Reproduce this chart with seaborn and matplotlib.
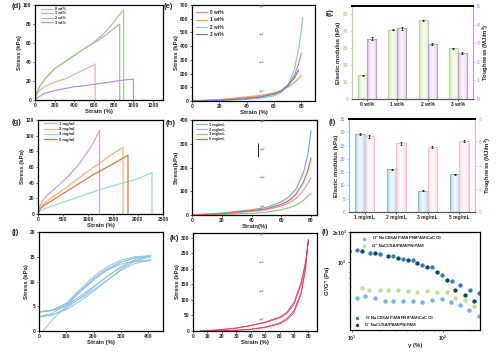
import matplotlib
matplotlib.use("Agg")
import matplotlib.pyplot as plt
from matplotlib.ticker import NullFormatter
from matplotlib.colors import to_rgb
import seaborn as sns
import numpy as np
import pandas as pd

sns.set_style("ticks")
plt.rcParams['font.family'] = ['Liberation Sans', 'DejaVu Sans']
plt.rcParams['mathtext.default'] = 'regular'
plt.rcParams['font.weight'] = 'bold'

# ---------------- data ----------------
# (d) tensile, CaCO3 content
d_labels = ["0 wt%", "1 wt%", "2 wt%", "3 wt%"]
d_colors = ["#f6ada6", "#b9b0bb", "#9fcf8c", "#b894d8"]
d0_x = [0, 20, 50, 100, 200, 300, 400, 500, 600, 610, 610]
d0_y = [0, 6, 10, 14, 19, 22, 27, 32, 37, 38, 0]
d1_x = [0, 20, 50, 100, 200, 300, 400, 500, 600, 700, 800, 860, 860]
d1_y = [0, 8, 15, 22, 33, 40, 47, 54, 60, 67, 75, 80, 0]
d2_x = [0, 20, 50, 100, 200, 300, 400, 500, 600, 700, 800, 900, 900]
d2_y = [0, 8, 15, 22, 33, 40, 47, 54, 61, 70, 82, 95, 0]
d3_x = [0, 20, 50, 100, 200, 300, 400, 500, 600, 700, 800, 900, 1000, 1000]
d3_y = [0, 2, 4, 7, 10, 12, 14, 15, 16.5, 18, 19.5, 21, 22, 0]

# (e) compression, CaCO3 content
e_colors = ["#ea8497", "#f5a252", "#86d6b6", "#7474d8"]
e0_x = [0, 20, 40, 50, 60, 65, 70, 75, 78, 80]
e0_y = [0, 8, 25, 35, 55, 75, 115, 190, 270, 350]
e1_x = [0, 20, 40, 50, 60, 65, 70, 75, 78, 80]
e1_y = [0, 10, 30, 40, 60, 75, 100, 135, 165, 185]
e2_x = [0, 20, 40, 50, 60, 65, 70, 75, 78, 80, 81]
e2_y = [0, 3, 12, 20, 38, 60, 110, 230, 380, 520, 610]
e3_x = [0, 20, 40, 50, 60, 65, 70, 75, 78]
e3_y = [0, 5, 18, 28, 50, 70, 110, 170, 225]
e_marks_y = [685, 481, 277, 66]

# (f) bars
f_cats = ["0 wt%", "1 wt%", "2 wt%", "3 wt%"]
f_mod = [14, 41, 46.5, 30]
f_mod_err = [0.3, 0.4, 0.4, 0.4]
f_tough = [3.25, 3.8, 2.95, 2.45]
f_tough_err = [0.07, 0.07, 0.07, 0.05]

# (g) tensile, SA content
g_labels = ["1 mg/ml", "2 mg/ml", "3 mg/ml", "5 mg/ml"]
g_colors = ["#c9a3e2", "#f5b376", "#95e2c4", "#e2763f"]
g1_x = [0, 20, 50, 100, 200, 400, 600, 800, 1000, 1100, 1200, 1230, 1230]
g1_y = [0, 7, 12, 18, 25, 36, 48, 62, 80, 90, 103, 107, 0]
g2_x = [0, 20, 50, 100, 300, 500, 700, 900, 1100, 1300, 1500, 1700, 1700]
g2_y = [0, 5, 8, 12, 22, 31, 40, 50, 59, 68, 77, 85, 0]
g3_x = [0, 20, 50, 100, 500, 1000, 1500, 2000, 2280, 2280]
g3_y = [0, 2.5, 4, 6, 15, 26, 36, 45, 53, 0]
g5_x = [0, 20, 50, 100, 300, 500, 700, 900, 1100, 1300, 1500, 1800, 1800]
g5_y = [0, 4, 7, 10, 18, 26, 34, 42, 50, 57, 64, 75, 0]

# (h) compression, SA content
h_labels = ["1 mg/mL", "2 mg/mL", "3 mg/mL", "5 mg/mL"]
h_colors = ["#6fb2e4", "#c9a3e2", "#86cf86", "#f26344"]
h_x = [0, 20, 40, 50, 60, 65, 70, 75, 78, 80]
h1_y = [0, 8, 22, 32, 55, 75, 110, 180, 260, 355]
h2_y = [0, 5, 15, 22, 38, 50, 70, 105, 135, 155]
h3_y = [0, 2, 7, 12, 22, 30, 42, 62, 80, 92]
h5_y = [0, 6, 18, 26, 45, 60, 88, 140, 190, 240]
h_marks_y = [392, 274, 156, 34]
h_cursor_x = 44.4
h_cursor_y = [244, 303]

# (i) bars
i_cats = ["1 mg/mL", "2 mg/mL", "3 mg/mL", "5 mg/mL"]
i_mod = [29.5, 16, 8, 14.2]
i_mod_err = [0.4, 0.2, 0.15, 0.2]
i_tough = [6.5, 5.9, 5.6, 6.1]
i_tough_err = [0.12, 0.12, 0.07, 0.1]

# (j) cyclic tensile
j_curves = [
    ([15, 50, 100, 150, 200, 250, 300, 350, 410], [0, 2.3, 5.0, 7.8, 10.3, 12.4, 13.9, 14.8, 15.2]),
    ([410, 350, 300, 250, 200, 150, 100, 50, 0], [15.2, 15.0, 14.3, 13.0, 11.0, 8.4, 5.6, 4.2, 3.9]),
    ([0, 50, 100, 150, 200, 250, 300, 350, 410], [3.9, 4.2, 5.0, 6.5, 8.3, 10.3, 12.2, 13.6, 14.3]),
    ([410, 350, 300, 250, 200, 150, 100, 50, 0], [14.3, 14.1, 13.5, 12.3, 10.4, 8.0, 5.5, 4.3, 3.8]),
    ([0, 50, 100, 150, 200, 250, 300, 350, 410], [3.8, 4.1, 5.1, 7.0, 9.0, 11.0, 12.8, 14.0, 14.4]),
    ([0, 50, 100, 150, 200, 250, 300, 350, 410], [2.9, 3.3, 4.3, 6.0, 8.0, 10.2, 12.4, 14.1, 15.0]),
    ([410, 350, 300, 250, 200, 150, 100, 50, 0], [15.0, 14.7, 13.9, 12.6, 10.6, 8.0, 5.3, 3.6, 2.9]),
    ([0, 50, 100, 150, 200, 250, 300, 350, 410], [2.8, 3.2, 4.6, 6.6, 8.8, 11.0, 13.0, 14.4, 15.1]),
]

# (k) cyclic compression
k_curves = [
    ([5, 10, 20, 30, 40, 50, 60, 65, 70, 75, 78, 80],
     [0, 1, 4, 9, 17, 27, 42, 56, 85, 150, 215, 295]),
    ([80, 78, 75, 70, 65, 60, 50, 40, 30, 20, 10, 5],
     [295, 205, 125, 65, 40, 26, 13, 6, 2.5, 1, 0, 0]),
    ([5, 10, 20, 30, 40, 50, 60, 65, 70, 75, 78, 80],
     [0, 1.5, 5, 10, 18, 29, 45, 60, 92, 158, 222, 290]),
    ([80, 78, 75, 70, 65, 60, 50, 40, 30, 20, 10, 5],
     [290, 198, 118, 58, 36, 23, 11, 5, 2, 0.5, 0, 0]),
]
k_marks_y = [310, 219, 126, 35]

# (l) strain sweep
l_gp1_x = [9.34, 12.8, 17.9, 25.1, 32.3, 41.6, 52.2, 67.2, 85.3, 110, 136, 175, 219]
l_gp1_y = [1297, 1280, 1230, 1148, 1096, 1040, 984, 891, 794, 656, 528, 471, 410]
l_gp2_x = [11.3, 15.8, 20.3, 28.4, 36.6, 46.5, 58.3, 75.1, 96.8, 125, 154, 198, 251]
l_gp2_y = [1309, 1222, 1202, 1148, 1079, 1047, 940, 885, 746, 650, 585, 528, 490]
l_gpp1_x = [9.34, 12.8, 15.5, 20.3, 25.1, 32.3, 41.6, 52.2, 67.2, 85.3, 110, 136, 175, 219]
l_gpp1_y = [572, 550, 528, 525, 521, 521, 509, 505, 509, 505, 501, 437, 420, 361]
l_gpp2_x = [11.3, 13.9, 17.9, 23.1, 28.4, 36.6, 47.2, 59.3, 76.2, 96.8, 122, 154, 193, 248]
l_gpp2_y = [433, 457, 440, 407, 407, 410, 410, 395, 414, 427, 395, 372, 331, 290]

# ---------------- figure ----------------
W, H = 500, 353
fig = plt.figure(figsize=(5, 3.53), dpi=100)

def add_ax(l, r, t, b):
    return fig.add_axes([l / W, 1 - b / H, (r - l) / W, (b - t) / H])

FS = 3.6
LFS = 4.3

def style(ax):
    for s in ax.spines.values():
        s.set_visible(True)
        s.set_linewidth(0.9)
        s.set_color("black")
    ax.tick_params(direction="out", length=1.5, width=0.5, labelsize=FS, pad=1)

def labels(ax, xl, yl):
    ax.set_xlabel(xl, fontsize=LFS, fontweight="bold", labelpad=0.5)
    ax.set_ylabel(yl, fontsize=LFS, fontweight="bold", labelpad=1)

def panel(x, y, s, rot=0):
    fig.text(x / W, 1 - y / H, s, fontsize=5.5, fontweight="bold", ha="left", va="center", rotation=rot)

def leg(ax, x, y, fs=3.2, sp=0.25, hl=2.5):
    lg = ax.legend(loc="upper left", bbox_to_anchor=(x, y), frameon=False, fontsize=fs,
                   labelspacing=sp, handlelength=hl, handletextpad=0.5, borderpad=0, borderaxespad=0)
    for t in lg.get_texts():
        t.set_fontweight("bold")
    return lg

def mark(ax, x, ys):
    for yv in ys:
        ax.text(x, yv, "\u21b5", fontsize=4.5, color="#9a9a9a", ha="center", va="center",
                family="DejaVu Sans")

# (d)
ax = add_ax(35, 163, 5, 100)
style(ax)
for xs, ys, c, lab in zip([d0_x, d1_x, d2_x, d3_x], [d0_y, d1_y, d2_y, d3_y], d_colors, d_labels):
    sns.lineplot(x=xs, y=ys, ax=ax, sort=False, estimator=None, color=c, lw=0.9, label=lab)
ax.set_xlim(0, 1300); ax.set_ylim(0, 100)
ax.set_xticks(range(0, 1201, 200)); ax.set_yticks(range(0, 101, 20))
labels(ax, "Strain (%)", "Stress (kPa)")
leg(ax, 0.05, 0.98, fs=2.8, sp=0.15, hl=3)
panel(12, 7, "(d)")

# (e)
ax = add_ax(192, 315, 5, 101)
style(ax)
for xs, ys, c, lab in zip([e0_x, e1_x, e2_x, e3_x], [e0_y, e1_y, e2_y, e3_y], e_colors, d_labels):
    sns.lineplot(x=xs, y=ys, ax=ax, sort=False, estimator=None, color=c, lw=0.9, label=lab)
ax.set_xlim(0, 90); ax.set_ylim(0, 700)
ax.set_xticks(range(0, 81, 20)); ax.set_yticks(range(0, 701, 100))
labels(ax, "Strain (%)", "Stress (kPa)")
leg(ax, 0.03, 0.95, fs=3.4, sp=0.5, hl=2.5)
mark(ax, 51, e_marks_y)
panel(164, 6, "(e)")

# gradient fill for bars
def shade(a, patch, color):
    r, g, b = to_rgb(color)
    t = np.array([0.0, 0.15, 0.5, 0.85, 1.0])
    mix = np.array([0.75, 0.45, 0.05, 0.35, 0.6])
    cols = np.array([[1 - m * (1 - r), 1 - m * (1 - g), 1 - m * (1 - b)] for m in mix])
    xs = np.linspace(0, 1, 64)
    img = np.stack([np.interp(xs, t, cols[:, k]) for k in range(3)], axis=-1)[None, :, :]
    x0, y0 = patch.get_x(), patch.get_y()
    im = a.imshow(img, extent=(x0, x0 + patch.get_width(), y0, y0 + patch.get_height()),
                  aspect="auto", zorder=patch.get_zorder() - 0.05, interpolation="bilinear")
    im.set_clip_path(patch)
    patch.set_facecolor("none")

# bars helper
def bars(ax, cats, mod, mod_err, tough, tough_err, c1, c2, ylim1, yt1, ylim2, yt2, tc1, tc2):
    df = pd.DataFrame({"cat": cats * 2, "metric": ["mod"] * len(cats) + ["tough"] * len(cats),
                       "val": list(mod) + list(tough)})
    ax2 = ax.twinx()
    sns.barplot(data=df[df.metric == "mod"], x="cat", y="val", hue="metric", hue_order=["mod", "tough"],
                dodge=True, width=0.6, ax=ax, errorbar=None, legend=False,
                palette={"mod": c1, "tough": c2}, edgecolor=c1, linewidth=0.8)
    sns.barplot(data=df[df.metric == "tough"], x="cat", y="val", hue="metric", hue_order=["mod", "tough"],
                dodge=True, width=0.6, ax=ax2, errorbar=None, legend=False,
                palette={"mod": c1, "tough": c2}, edgecolor=c2, linewidth=0.8)
    for a, vals, errs, col in [(ax, mod, mod_err, c1), (ax2, tough, tough_err, c2)]:
        ps = sorted([p for p in a.patches if p.get_height() > 0], key=lambda p: p.get_x())
        xc = [p.get_x() + p.get_width() / 2 for p in ps]
        for p in ps:
            shade(a, p, col)
        a.errorbar(xc, vals, yerr=errs, fmt="none", ecolor="black", elinewidth=0.5, capsize=0.8,
                   capthick=0.5, zorder=5)
    ax.set_ylim(*ylim1); ax.set_yticks(yt1)
    ax2.set_ylim(*ylim2); ax2.set_yticks(yt2)
    ax.set_xlim(-0.5, 3.5); ax2.set_xlim(-0.5, 3.5)
    for a in (ax, ax2):
        for s in a.spines.values():
            s.set_visible(True)
            s.set_linewidth(0.8)
    ax.spines["top"].set_linewidth(1.4); ax.spines["top"].set_color("black")
    ax2.spines["top"].set_linewidth(1.4); ax2.spines["top"].set_color("black")
    ax.spines["left"].set_color(tc1); ax2.spines["left"].set_color(tc1)
    ax.spines["right"].set_color(tc2); ax2.spines["right"].set_color(tc2)
    ax.spines["bottom"].set_color("#555555"); ax2.spines["bottom"].set_color("#555555")
    ax.tick_params(axis="y", direction="out", length=1.5, width=0.5, labelsize=FS, pad=1, colors=tc1)
    ax.tick_params(axis="x", direction="out", length=1.5, width=0.5, labelsize=FS, pad=1)
    ax2.tick_params(axis="y", direction="out", length=1.5, width=0.5, labelsize=FS, pad=1, colors=tc2)
    ax.set_xlabel("")
    ax.set_ylabel("Elastic modulus (kPa)", fontsize=LFS, fontweight="bold", labelpad=1)
    ax2.set_ylabel("Toughness (MJ/m$^3$)", fontsize=LFS, fontweight="bold", labelpad=1)
    return ax2

ax = add_ax(352, 473, 6, 99)
bars(ax, f_cats, f_mod, f_mod_err, f_tough, f_tough_err,
     "#b7da8f", "#c59cd9", (0, 55), range(0, 51, 10), (0, 5), range(0, 6),
     "#b7da8f", "#c59cd9")
panel(327, 12, "(f)", rot=90)

# (g)
ax = add_ax(38, 163, 120, 214)
style(ax)
for xs, ys, c, lab in zip([g1_x, g2_x, g3_x, g5_x], [g1_y, g2_y, g3_y, g5_y], g_colors, g_labels):
    sns.lineplot(x=xs, y=ys, ax=ax, sort=False, estimator=None, color=c, lw=0.9, label=lab)
ax.set_xlim(0, 2500); ax.set_ylim(0, 120)
ax.set_xticks(range(0, 2501, 500)); ax.set_yticks(range(0, 121, 20))
labels(ax, "Strain (%)", "Stress (kPa)")
leg(ax, 0.05, 0.98, fs=3.0, sp=0.3, hl=3)
panel(12, 122, "(g)")

# (h)
ax = add_ax(192, 317, 120, 215)
style(ax)
for ys, c, lab in zip([h1_y, h2_y, h3_y, h5_y], h_colors, h_labels):
    sns.lineplot(x=h_x, y=ys, ax=ax, sort=False, estimator=None, color=c, lw=0.9, label=lab)
ax.vlines(h_cursor_x, h_cursor_y[0], h_cursor_y[1], color="black", lw=0.6)
ax.set_xlim(0, 84); ax.set_ylim(0, 400)
ax.set_xticks(range(0, 81, 20)); ax.set_yticks(range(0, 401, 100))
labels(ax, "Strain(%)", "Stress(kPa)")
leg(ax, 0.03, 0.97, fs=2.8, sp=0.2, hl=3)
mark(ax, 47, h_marks_y)
panel(166, 123, "(h)")

# (i)
ax = add_ax(349, 475, 119, 212)
bars(ax, i_cats, i_mod, i_mod_err, i_tough, i_tough_err,
     "#86bfe3", "#f5c1c9", (0, 35), range(0, 36, 5), (0, 8), range(0, 9, 2),
     "#86bfe3", "#f5b6bf")
panel(329, 122, "(i)")

# (j)
ax = add_ax(39, 163, 232, 331)
style(ax)
for xs, ys in j_curves:
    sns.lineplot(x=xs, y=ys, ax=ax, sort=False, estimator=None, color="#8ec3e6", lw=0.7)
ax.set_xlim(0, 455); ax.set_ylim(0, 20)
ax.set_xticks(range(0, 401, 100)); ax.set_yticks(range(0, 21, 5))
labels(ax, "Strain (%)", "Stress (kPa)")
panel(12, 232, "(j)")

# (k)
ax = add_ax(193, 317, 233, 331)
style(ax)
for xs, ys in k_curves:
    sns.lineplot(x=xs, y=ys, ax=ax, sort=False, estimator=None, color="#e23f5c", lw=0.6)
ax.set_xlim(0, 86); ax.set_ylim(0, 316)
ax.set_xticks(range(0, 81, 10)); ax.set_yticks(range(0, 301, 50))
labels(ax, "Strain (%)", "Stress (kPa)")
mark(ax, 47.3, k_marks_y)
panel(170, 238, "(k)")

# (l)
ax = add_ax(350, 480, 232, 330)
style(ax)
ax.set_xscale("log"); ax.set_yscale("log")
sns.scatterplot(x=l_gpp2_x, y=l_gpp2_y, ax=ax, marker="o", s=7, color="#7ab9ea", edgecolor="#3f8fd0",
                linewidth=0.3, label="G'' NaCl/SA/PAM/PNIPAM/CaCO$_3$")
sns.scatterplot(x=l_gpp1_x, y=l_gpp1_y, ax=ax, marker="o", s=7, color="#c3df98", edgecolor="#b0d484",
                linewidth=0.3, label="G'' NaCl/SA/PAM/PNIPAM")
sns.scatterplot(x=l_gp2_x, y=l_gp2_y, ax=ax, marker="o", s=7, color="#2e7fc4", edgecolor="#1d5f9e",
                linewidth=0.3, label="G' NaCl/SA/PAM/PNIPAM/CaCO$_3$")
sns.scatterplot(x=l_gp1_x, y=l_gp1_y, ax=ax, marker="h", s=9, color="#0b4b4f", edgecolor="#0b4b4f",
                linewidth=0.3, label="G' NaCl/SA/PAM/PNIPAM")
ax.set_xlim(9.5, 256); ax.set_ylim(209, 2000)
ax.set_xticks([10, 100]); ax.set_xticklabels(["10$^1$", "10$^2$"])
ax.set_yticks([1000, 2000]); ax.set_yticklabels(["10$^3$", "2x10$^3$"])
ax.xaxis.set_minor_formatter(NullFormatter())
ax.yaxis.set_minor_formatter(NullFormatter())
ax.tick_params(which="minor", length=1, width=0.4)
ax.set_xlabel("\u03b3 (%)", fontsize=LFS, fontweight="bold", labelpad=0.5)
ax.set_ylabel("G'/G'' (Pa)", fontsize=LFS, fontweight="bold", labelpad=1)
hs, ls = ax.get_legend_handles_labels()
l1 = ax.legend(hs[:2], ls[:2], loc="upper left", bbox_to_anchor=(0.05, 1.0), frameon=False, fontsize=3.2,
               labelspacing=0.3, handletextpad=0.8, borderpad=0.1, markerscale=0.8)
ax.add_artist(l1)
ax.legend(hs[2:], ls[2:], loc="lower left", bbox_to_anchor=(0.0, 0.0), frameon=False, fontsize=3.2,
          labelspacing=0.3, handletextpad=0.8, borderpad=0.1, markerscale=0.8)
panel(322, 233, "(l)")

fig.savefig("out.png", dpi=100)
